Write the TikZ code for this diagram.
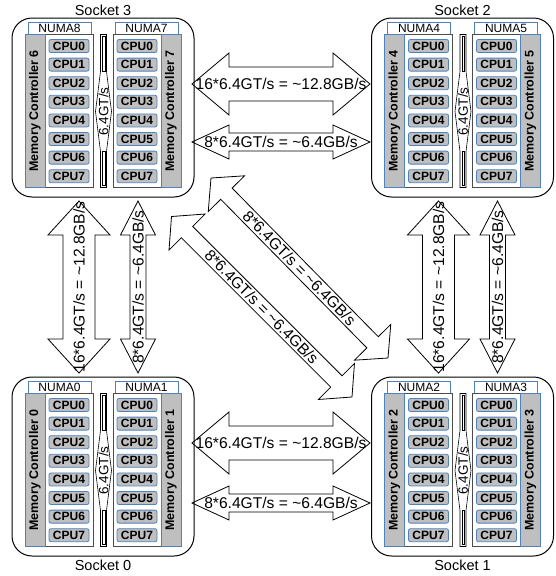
\documentclass[tikz,border=0pt]{standalone}
\usepackage{fontspec}
\setmainfont{Liberation Sans}
\usetikzlibrary{calc,positioning}
\definecolor{numablue}{RGB}{79,129,189}
\definecolor{boxgray}{RGB}{191,191,191}
\newcommand{\linkarrow}[6]{%
  \path ($(#1)!#5pt!(#2)$) coordinate (ba) ($(#2)!#5pt!(#1)$) coordinate (bb);
  \draw[wide arrow] (#1) -- ($(ba)!#4pt!90:(#1)$) -- ($(ba)!#3pt!90:(#1)$) -- ($(bb)!#3pt!-90:(#2)$) -- ($(bb)!#4pt!-90:(#2)$) -- (#2) -- ($(bb)!#4pt!90:(#2)$) -- ($(bb)!#3pt!90:(#2)$) -- ($(ba)!#3pt!-90:(#1)$) -- ($(ba)!#4pt!-90:(#1)$) -- cycle;
  \path (#1) -- node[sloped,arrow label] {#6} (#2);
}

\begin{document}
\begin{tikzpicture}[x=1pt,y=-1pt,
  socket/.style={draw,rounded corners=20pt,line width=1pt,minimum width=182pt,minimum height=179pt,inner sep=0pt},
  sockname/.style={inner sep=0pt,font=\fontsize{14.5}{15}\selectfont},
  numa/.style={draw=numablue,fill=white,line width=0.8pt,minimum width=63pt,minimum height=12pt,inner sep=0pt,font=\fontsize{12}{12}\selectfont},
  mc/.style={draw=numablue,fill=boxgray,line width=0.8pt,minimum width=153pt,minimum height=20pt,inner sep=0pt,rotate=90,font=\bfseries\fontsize{12.5}{12.5}\selectfont},
  panel/.style={draw=black!70,fill=white,line width=0.6pt,minimum width=48pt,minimum height=153pt,inner sep=0pt},
  cpu/.style={draw=numablue,fill=boxgray,rounded corners=2pt,line width=0.8pt,minimum width=40pt,minimum height=13pt,inner sep=0pt,font=\bfseries\fontsize{12}{12}\selectfont},
  wide arrow/.style={draw,fill=white,line width=0.8pt,line join=miter},
  arrow label/.style={inner sep=0pt,font=\fontsize{15.6}{16}\selectfont},
  bus label/.style={inner sep=0pt,rotate=90,font=\fontsize{13.5}{14}\selectfont}]
  \useasboundingbox (0,0) rectangle (556,576);

  \coordinate (h1a) at (192,84);    \coordinate (h1b) at (370,84);
  \coordinate (h2a) at (192,142);   \coordinate (h2b) at (370,142);
  \coordinate (h3a) at (192,443);   \coordinate (h3b) at (370,443);
  \coordinate (h4a) at (192,503);   \coordinate (h4b) at (370,503);
  \coordinate (v1a) at (79,373);    \coordinate (v1b) at (79,201);
  \coordinate (v2a) at (138,373);   \coordinate (v2b) at (138,201);
  \coordinate (v3a) at (438.5,373); \coordinate (v3b) at (438.5,201);
  \coordinate (v4a) at (497.5,373); \coordinate (v4b) at (497.5,201);
  \coordinate (d1a) at (211,178);   \coordinate (d1b) at (388,358);
  \coordinate (d2a) at (171.5,216.5); \coordinate (d2b) at (352,397);

  \linkarrow{h1a}{h1b}{17}{31}{37}{16*6.4GT/s = \textasciitilde12.8GB/s}
  \linkarrow{h2a}{h2b}{9}{17}{37}{8*6.4GT/s = \textasciitilde6.4GB/s}
  \linkarrow{h3a}{h3b}{17}{31}{37}{16*6.4GT/s = \textasciitilde12.8GB/s}
  \linkarrow{h4a}{h4b}{9}{17}{37}{8*6.4GT/s = \textasciitilde6.4GB/s}
  \linkarrow{v1a}{v1b}{16}{31}{34}{16*6.4GT/s = \textasciitilde12.8GB/s}
  \linkarrow{v2a}{v2b}{8}{17.5}{34}{8*6.4GT/s = \textasciitilde6.4GB/s}
  \linkarrow{v3a}{v3b}{16}{31}{34}{16*6.4GT/s = \textasciitilde12.8GB/s}
  \linkarrow{v4a}{v4b}{8}{17.5}{34}{8*6.4GT/s = \textasciitilde6.4GB/s}
  \linkarrow{d1a}{d1b}{8}{25.5}{22}{8*6.4GT/s = \textasciitilde6.4GB/s}
  \linkarrow{d2a}{d2b}{8}{25.5}{22}{8*6.4GT/s = \textasciitilde6.4GB/s}

  \foreach \s/\cx/\cy/\nl/\nr/\ml/\mr/\sd/\an/\ys in {3/103/107.5/8/7/6/7/north/south/2pt,
      2/462.5/107.5/4/5/4/5/north/south/2pt,
      0/103/466.5/0/1/0/1/south/north/-3pt,
      1/462.5/466.5/2/3/2/3/south/north/-3pt} {
    \node[socket] (s\s) at (\cx,\cy) {};
    \node[sockname,anchor=\an] (l\s) at ([yshift=\ys]s\s.\sd) {Socket \s};
    \begin{scope}[shift={(s\s.north)}]
      \node[numa] (s\s-nl) at (-43.5,11) {NUMA\nl};
      \node[numa] (s\s-nr) at (43.5,11) {NUMA\nr};
      \node[panel] (s\s-pl) at (-34,93.5) {};
      \node[panel] (s\s-pr) at (34,93.5) {};
      \node[mc] (s\s-ml) at (-68,93.5) {Memory Controller \ml};
      \node[mc] (s\s-mr) at (68,93.5) {Memory Controller \mr};
      \foreach \k in {0,...,7} {
        \node[cpu] (s\s-a\k) at (-34,{28.5+18.6*\k}) {CPU\k};
        \node[cpu] (s\s-b\k) at (34,{28.5+18.6*\k}) {CPU\k};
      }
      \draw[wide arrow,line width=0.6pt] (-2.5,17) -- (-2.5,54) -- (-7.5,94) -- (-2.5,134) -- (-2.5,170)
        -- (3.5,170) -- (3.5,134) -- (8.5,94) -- (3.5,54) -- (3.5,17) -- cycle;
      \draw[line width=0.4pt] (-0.8,19) rectangle (1.8,54) (-0.8,134) rectangle (1.8,168);
      \node[bus label] (s\s-bus) at (0.5,94) {6.4GT/s};
    \end{scope}
  }
\end{tikzpicture}
\end{document}
